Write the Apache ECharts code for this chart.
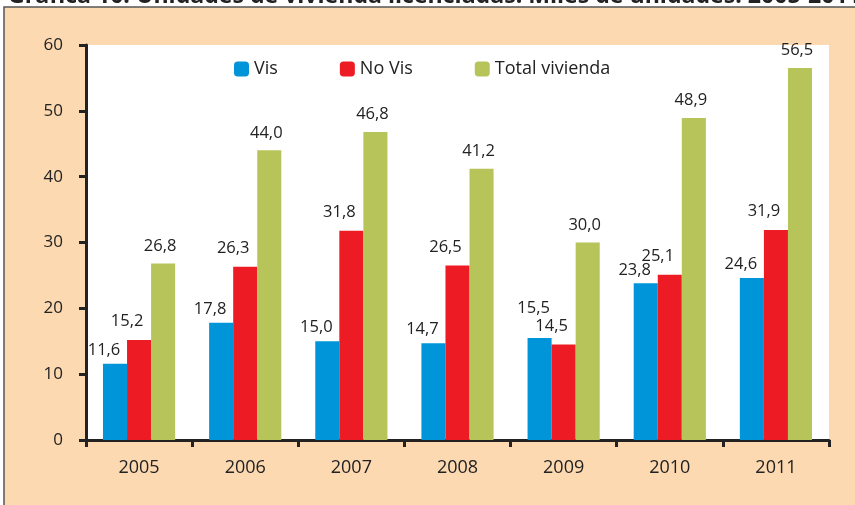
<!DOCTYPE html>
<html>
<head>
<meta charset="utf-8">
<script src="https://cdn.jsdelivr.net/npm/echarts@6/dist/echarts.min.js"></script>
<style>html,body{margin:0;padding:0;background:#fff}#c{width:855px;height:505px}</style>
</head>
<body>
<div id="c"></div>
<script>
const titleText = 'Gráfica 10. Unidades de vivienda licenciadas. Miles de unidades. 2005-2011';
const years = ['2005','2006','2007','2008','2009','2010','2011'];
const vis = [11.6, 17.8, 15.0, 14.7, 15.5, 23.8, 24.6];
const noVis = [15.2, 26.3, 31.8, 26.5, 14.5, 25.1, 31.9];
const total = [26.8, 44.0, 46.8, 41.2, 30.0, 48.9, 56.5];
const yTicks = [0, 10, 20, 30, 40, 50, 60];

const fmt = v => v.toFixed(1).replace('.', ',');
const font = '"Open Sans", "Noto Sans", sans-serif';
const chart = echarts.init(document.getElementById('c'));

function series(name, data, color, offset, dist) {
  return {
    name, type: 'bar', data: data.map((v, i) => {
      const item = { value: v };
      if (name === 'Vis' && years[i] === '2009') item.label = { offset: [-6, -16] };
      return item;
    }),
    itemStyle: { color },
    barGap: '0%', barCategoryGap: '32%',
    label: {
      show: true, position: 'top', distance: dist, offset,
      formatter: p => fmt(p.value), color: '#222', fontSize: 16.5, fontFamily: font
    }
  };
}

chart.setOption({
  animation: false,
  backgroundColor: '#ffffff',
  graphic: [
    { type: 'rect', shape: { x: 4, y: 7, width: 900, height: 600 },
      style: { fill: '#FCD9B1', stroke: '#555', lineWidth: 1.5 }, z: -10 },
    { type: 'text', x: 8, y: -15, style: { text: titleText, fontSize: 23.1, fontWeight: 'bold',
      fontFamily: font, fill: '#222' }, z: -5 }
  ],
  grid: { left: 86, right: 26, top: 45, bottom: 65, show: true, backgroundColor: '#fff', borderWidth: 0 },
  legend: {
    left: 229, top: 55, itemWidth: 15, itemHeight: 15, itemGap: 62,
    textStyle: { fontSize: 18, color: '#222', fontFamily: font },
    data: ['Vis', 'No Vis', 'Total vivienda']
  },
  xAxis: {
    type: 'category', data: years,
    axisLine: { lineStyle: { color: '#222', width: 3 } },
    axisTick: { show: true, length: 7, lineStyle: { color: '#222', width: 3 } },
    axisLabel: { color: '#222', fontSize: 18, fontFamily: font, margin: 19 }
  },
  yAxis: {
    type: 'value', min: yTicks[0], max: yTicks[yTicks.length - 1], interval: 10,
    axisLine: { show: true, lineStyle: { color: '#222', width: 3 } },
    axisTick: { show: true, length: 7, lineStyle: { color: '#222', width: 3 } },
    splitLine: { show: false },
    axisLabel: { color: '#222', fontSize: 17, fontFamily: font, margin: 23 }
  },
  series: [
    series('Vis', vis, '#0095D9', [-11, 0], 5),
    series('No Vis', noVis, '#ED1C24', [-12, 0], 10),
    series('Total vivienda', total, '#B7C45A', [-3, 0], 9)
  ]
});
</script>
</body>
</html>
